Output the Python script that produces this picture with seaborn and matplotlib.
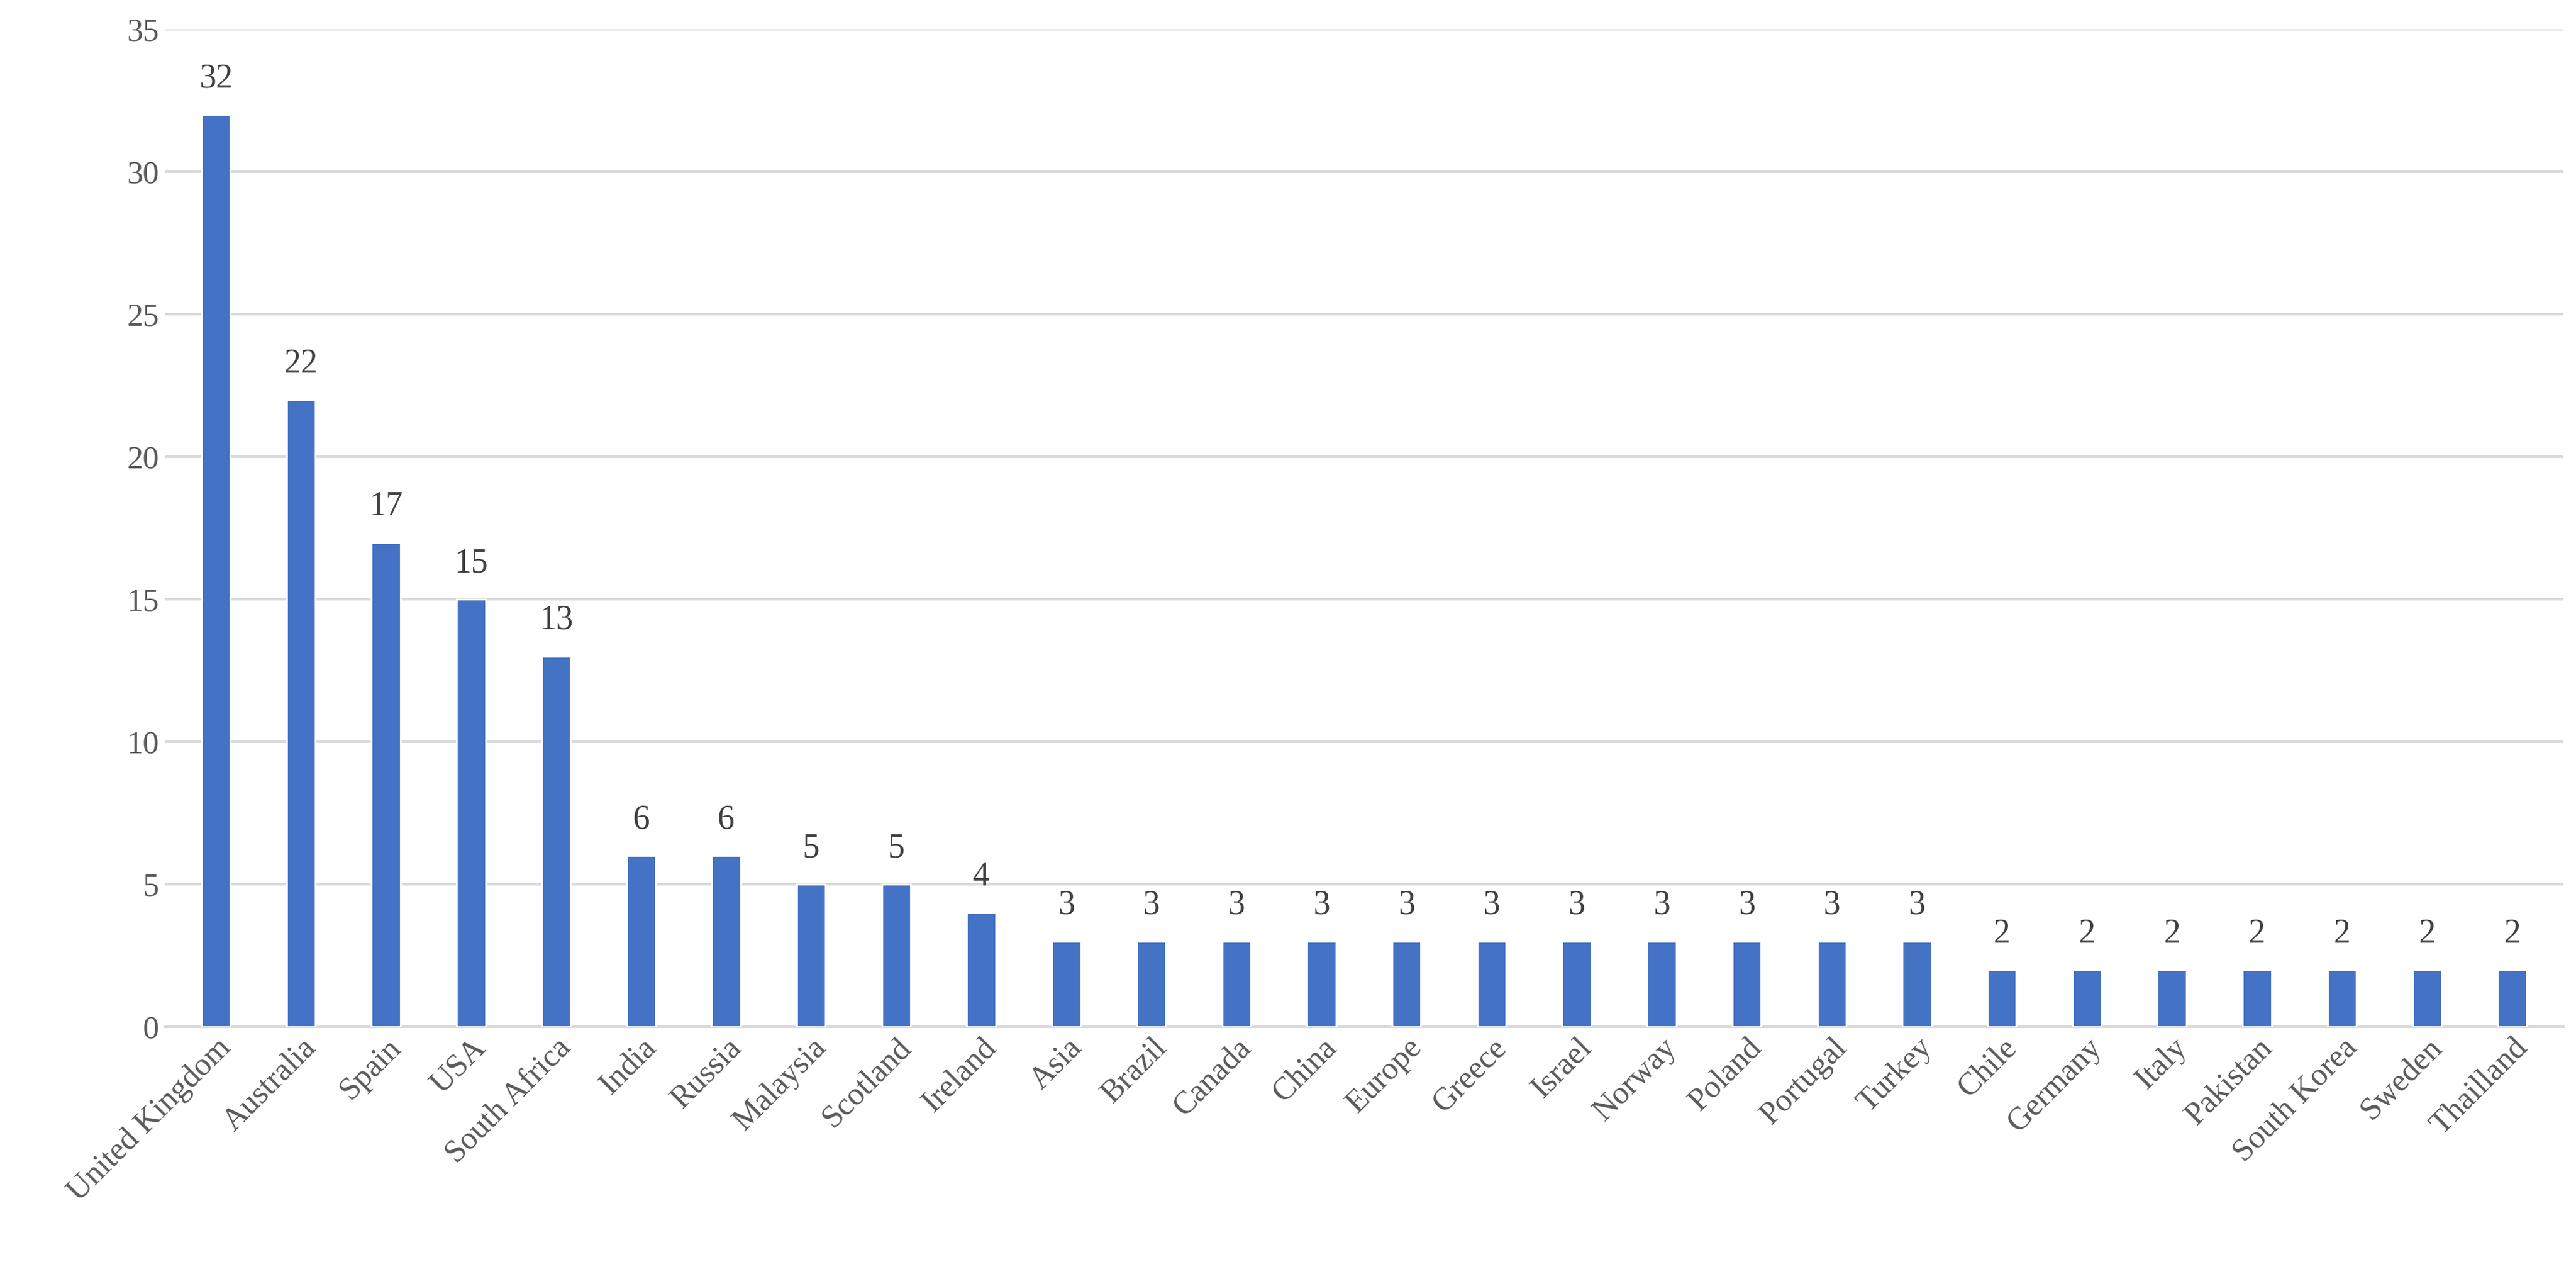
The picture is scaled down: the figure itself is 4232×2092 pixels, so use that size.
import numpy as np
import pandas as pd
import seaborn as sns
import matplotlib.pyplot as plt

countries = ['United Kingdom', 'Australia', 'Spain', 'USA', 'South Africa', 'India', 'Russia',
             'Malaysia', 'Scotland', 'Ireland', 'Asia', 'Brazil', 'Canada', 'China', 'Europe',
             'Greece', 'Israel', 'Norway', 'Poland', 'Portugal', 'Turkey', 'Chile', 'Germany',
             'Italy', 'Pakistan', 'South Korea', 'Sweden', 'Thailland']
counts = [32, 22, 17, 15, 13, 6, 6, 5, 5, 4, 3, 3, 3, 3, 3, 3, 3, 3, 3, 3, 3,
          2, 2, 2, 2, 2, 2, 2]

df = pd.DataFrame({'country': countries, 'count': counts})

sns.set_theme(style='white')
plt.rcParams['font.family'] = ['Liberation Serif', 'DejaVu Serif']

fig, ax = plt.subplots(figsize=(21.16, 10.46), dpi=200)
fig.subplots_adjust(left=0.064, right=0.995, top=0.977, bottom=0.194)

sns.barplot(data=df, x='country', y='count', color='#4472C4', width=0.34, saturation=1, ax=ax, zorder=3)

for i, v in enumerate(counts):
    ax.text(i, v + 0.7, str(v), ha='center', va='bottom', fontsize=20, color='#404040')

ax.set_ylim(0, 35)
ax.set_yticks(range(0, 36, 5))
ax.yaxis.grid(True, color='#D9D9D9', linewidth=1.5, zorder=0)
ax.set_xlim(-0.6, len(countries) - 0.4)
ax.set_xlabel('')
ax.set_ylabel('')
for s in ['top', 'right', 'left']:
    ax.spines[s].set_visible(False)
ax.spines['bottom'].set_color('#D9D9D9')
ax.spines['bottom'].set_linewidth(1.5)
ax.tick_params(axis='both', length=0, labelsize=19, colors='#595959')
plt.setp(ax.get_xticklabels(), rotation=45, ha='right', rotation_mode='anchor')

fig.savefig('out.png', dpi=200)
